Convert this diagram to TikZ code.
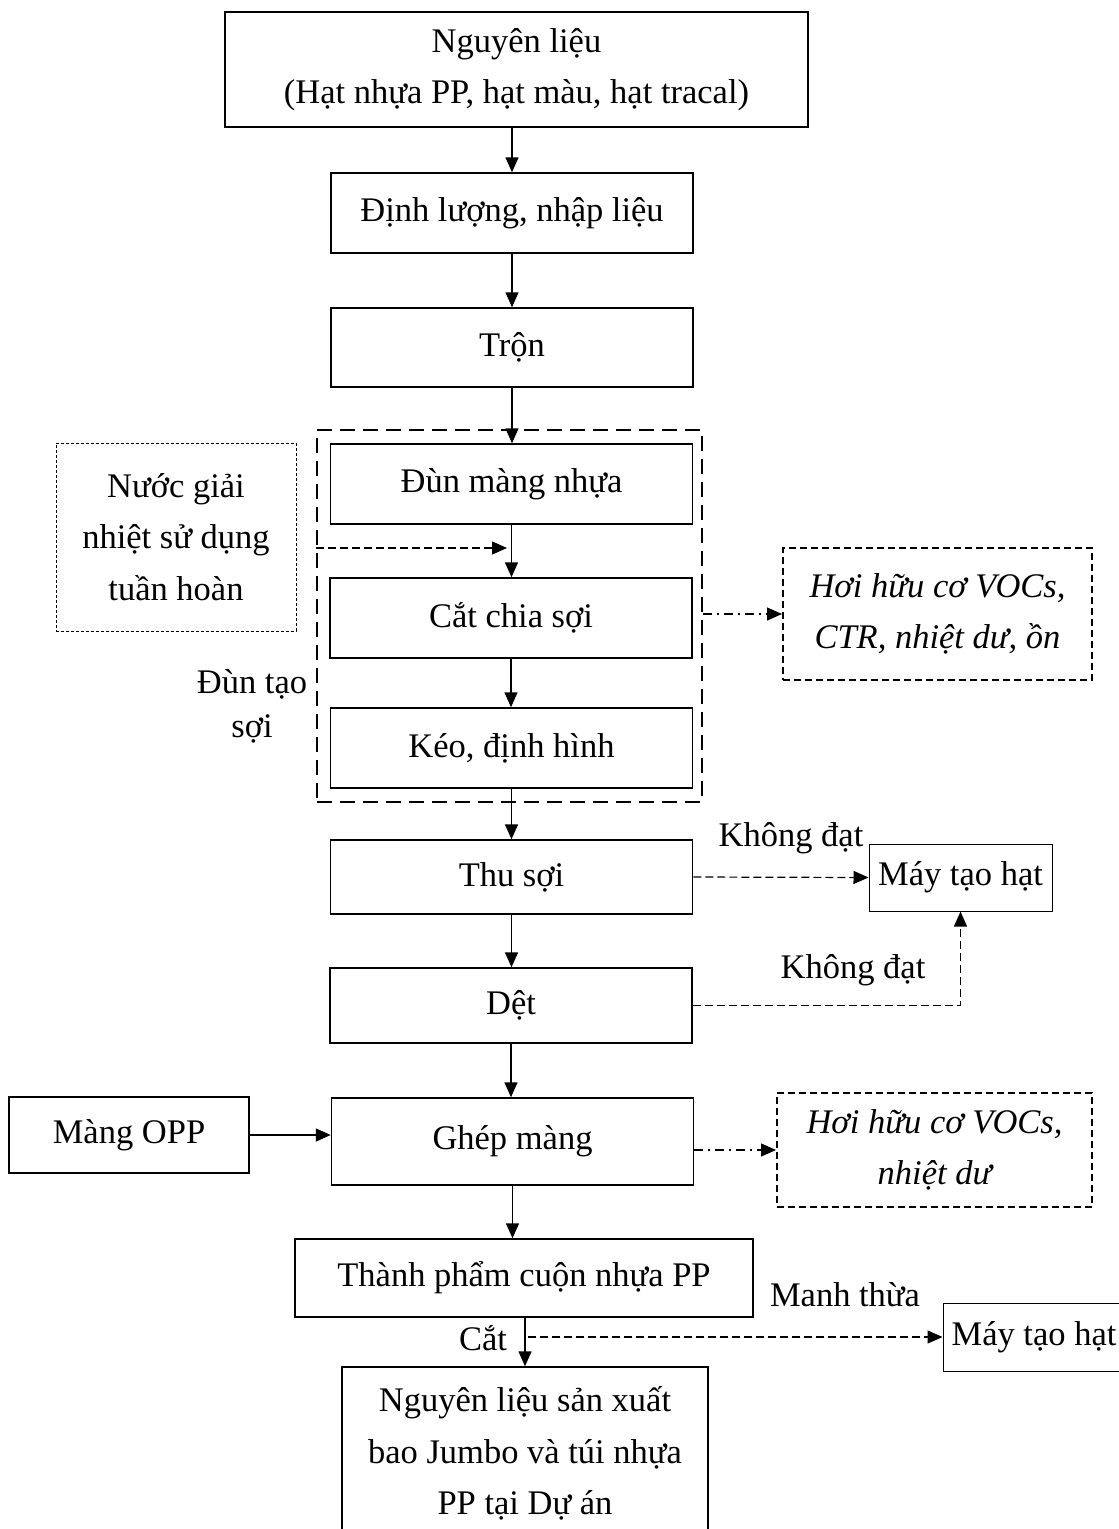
\documentclass[tikz,border=0pt]{standalone}
\usepackage{fontspec}
\setmainfont{Liberation Serif}
\usetikzlibrary{arrows.meta,positioning}

\begin{document}
\begin{tikzpicture}[x=1pt, y=-1pt,
    every node/.style={font=\fontsize{34.5}{51.5}\selectfont, inner sep=0pt, align=center},
    box/.style={draw, line width=1.5pt, minimum width=362pt, minimum height=80pt},
    maybox/.style={draw, line width=1pt, minimum width=183pt, minimum height=67pt},
    nhombox/.style={draw, line width=2.8pt, dash pattern=on 15pt off 8pt},
    nuocbox/.style={draw, line width=0.8pt, dash pattern=on 3pt off 2pt},
    thaibox/.style={draw, line width=2pt, dash pattern=on 7pt off 4pt, font=\fontsize{34.5}{51.5}\selectfont\itshape},
    arr/.style={-{Triangle[length=15pt,width=13pt]}, line width=1.5pt},
    dasharr/.style={arr, line width=1.2pt, dash pattern=on 8pt off 4pt},
    dotarr/.style={arr, line width=1.2pt, dash pattern=on 9pt off 5pt on 2pt off 5pt}]

    \useasboundingbox (0,0) rectangle (1119,1529);
    \clip (0,0) rectangle (1119,1529);

    \node[nhombox, minimum width=385pt, minimum height=372pt] (dunsoi) at (509.5,616) {};

    \node[box, minimum width=583pt, minimum height=115pt] (nl) at (516.5,69.5) {Nguyên liệu\\(Hạt nhựa PP, hạt màu, hạt tracal)};
    \node[box] (dinhluong) at (512,213) {Định lượng, nhập liệu};
    \node[box, minimum height=79pt] (tron) at (512,347.5) {Trộn};
    \node[box] (dun) at (511.5,484) {Đùn màng nhựa};
    \node[box] (cat) at (511,618) {Cắt chia sợi};
    \node[box] (keo) at (511.5,748) {Kéo, định hình};
    \node[box, minimum height=74pt] (thu) at (511.5,877) {Thu sợi};
    \node[box, minimum height=75pt] (det) at (511,1005.5) {Dệt};
    \node[box, minimum height=87pt] (ghep) at (512.5,1141.5) {Ghép màng};
    \node[box, minimum width=458pt, minimum height=78pt] (thanhpham) at (524,1278) {Thành phẩm cuộn nhựa PP};
    \node[box, minimum width=366pt, minimum height=173pt] (nlsx) at (525,1453.5) {Nguyên liệu sản xuất\\bao Jumbo và túi nhựa\\PP tại Dự án};

    \node[nuocbox, minimum width=240pt, minimum height=188pt] (nuoc) at (176,537) {Nước giải\\nhiệt sử dụng\\tuần hoàn};
    \node[thaibox, minimum width=309pt, minimum height=132pt] (hoi1) at (937.5,614) {Hơi hữu cơ VOCs,\\CTR, nhiệt dư, ồn};
    \node[maybox] (may1) at (960.5,877.5) {Máy tạo hạt};
    \node[box, minimum width=240pt, minimum height=76pt] (opp) at (129,1135) {Màng OPP};
    \node[thaibox, minimum width=315pt, minimum height=114pt] (hoi2) at (934.5,1150) {Hơi hữu cơ VOCs,\\nhiệt dư};
    \node[maybox, minimum width=182pt, minimum height=68pt] (may2) at (1034,1337) {Máy tạo hạt};

    \node[font=\fontsize{34.5}{44}\selectfont] (dunlbl) at (252,706) {Đùn tạo\\sợi};
    \node (kd1) at (791,838) {Không đạt};
    \node (kd2) at (853,970) {Không đạt};
    \node (manh) at (845,1295) {Manh thừa};
    \node (catlbl) at (483,1338) {Cắt};

    \coordinate (nuocin) at (507,548);
    \coordinate (catpt) at (528,1337);

    \draw[arr] (dinhluong.north |- nl.south) -- (dinhluong.north);
    \draw[arr] (dinhluong.south) -- (dinhluong.south |- tron.north);
    \draw[arr] (tron.south) -- (tron.south |- dun.north);
    \draw[arr] (dun.south) -- (dun.south |- cat.north);
    \draw[arr] (cat.south) -- (cat.south |- keo.north);
    \draw[arr] (keo.south) -- (keo.south |- thu.north);
    \draw[arr] (thu.south) -- (thu.south |- det.north);
    \draw[arr] (det.south) -- (det.south |- ghep.north);
    \draw[arr] (ghep.south) -- (ghep.south |- thanhpham.north);
    \draw[arr] (nlsx.north |- thanhpham.south) -- (nlsx.north);

    \draw[dasharr] (dunsoi.west |- nuocin) -- (nuocin);
    \draw[dotarr] (dunsoi.east |- hoi1.west) -- (hoi1.west);
    \draw[dasharr] (thu.east) -- (may1.west);
    \draw[dasharr] (det.east) -| (may1.south);
    \draw[arr] (opp.east) -- (ghep.west |- opp.east);
    \draw[dotarr] (ghep.east |- hoi2.west) -- (hoi2.west);
    \draw[dasharr] (catpt) -- (may2.west);
\end{tikzpicture}
\end{document}
